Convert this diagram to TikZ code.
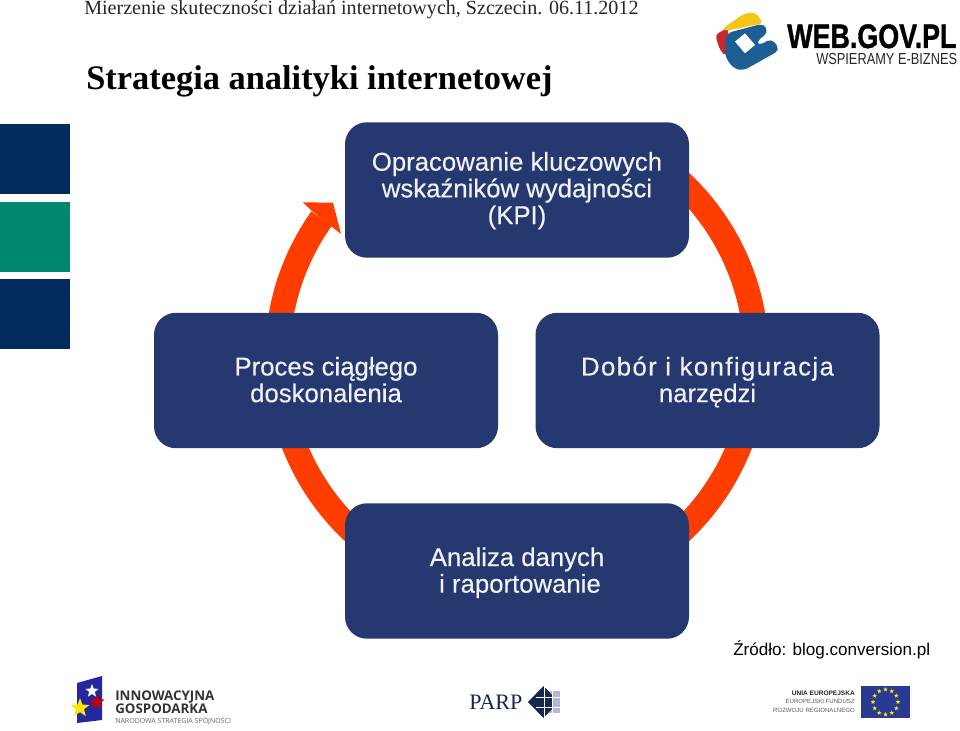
\documentclass[tikz,border=0pt]{standalone}
\usepackage{fontspec}
\setmainfont{Liberation Serif}
\setsansfont{Liberation Sans}
\newfontfamily\opensans{Open Sans}
\newfontfamily\boxfont[FakeBold=0.35]{Liberation Sans}
\newfontfamily\boxfontwide[FakeBold=0.35,LetterSpace=5.5]{Liberation Sans}
\newfontfamily\heavyfont[FakeBold=1.2]{Liberation Sans Bold}
\usetikzlibrary{shapes.geometric,calc}
\definecolor{boxblue}{HTML}{253870}
\definecolor{ringred}{HTML}{FF3D00}
\definecolor{navyside}{HTML}{002B5C}
\definecolor{tealside}{HTML}{00876F}
\definecolor{boxtext}{HTML}{F0F2F7}
\definecolor{flagblue}{HTML}{2A3A92}
\definecolor{logogrey}{HTML}{333333}
\definecolor{parpnavy}{HTML}{14284F}
\definecolor{parplilac}{HTML}{B4B7D4}
\definecolor{logoblue}{HTML}{1C5F95}
\definecolor{logored}{HTML}{C8282D}
\definecolor{logoyellow}{HTML}{F5C518}
\tikzset{
  stagebox/.style={fill=boxblue,rounded corners=16.5pt,minimum width=258pt,minimum height=101.6pt,inner sep=0pt,align=center,text=boxtext,font=\boxfont\fontsize{19.3}{20}\selectfont},
  sidesq/.style={minimum size=52.5pt,inner sep=0pt,anchor=north west},
  lbl/.style={inner sep=0pt,anchor=base west},
  lblr/.style={inner sep=0pt,anchor=base east},
  flagstar/.style={star,star points=5,star point ratio=2.4,inner sep=0pt},
  eustar/.style={flagstar,fill=yellow!90!orange,minimum size=3.6pt},
}
\begin{document}
\begin{tikzpicture}[x=0.75pt,y=-0.75pt]
\useasboundingbox (0,0) rectangle (960,731);
% header
\node[lbl,font=\fontsize{15.05}{17}\selectfont,text=black!85] (hdr) at (84,15) {Mierzenie skuteczności działań internetowych, Szczecin. 06.11.2012};
\node[lbl,font=\bfseries\fontsize{25.8}{30}\selectfont] (title) at (86,90) {Strategia analityki internetowej};
% side squares
\node[sidesq,fill=navyside] (s1) at (0,124) {};
\node[sidesq,fill=tealside] (s2) at (0,202) {};
\node[sidesq,fill=navyside] (s3) at (0,279) {};
% ring
\coordinate (ringc) at (517,357);
\draw[ringred,line width=18.75pt] (ringc) ++(-144.7:239.5) arc[start angle=-144.7,end angle=-420,radius=239.5];
\fill[ringred] (311.7,210.7) -- (302.7,202.3) -- (333,202.7) -- (341,234) -- (331.7,226.7) -- cycle;
% boxes
\node[stagebox] (kpi) at (517,190) {\rule{0pt}{15pt}Opracowanie kluczowych\\wskaźników wydajności\\(KPI)};
\node[stagebox] (tools) at (707.5,380.5) {\rule{0pt}{16.5pt}{\boxfontwide Dobór i konfiguracja}\\narzędzi};
\node[stagebox] (improve) at (326,380.5) {Proces ciągłego\\doskonalenia\rule[-1.5pt]{0pt}{0pt}};
\node[stagebox] (data) at (517,571) {\rule{0pt}{16.5pt}Analiza danych\\\hspace*{4.5pt}i raportowanie};
% source
\node[lbl,font=\sffamily\fontsize{12.8}{15}\selectfont] (src) at (733,655.5) {Źródło: blog.conversion.pl};
% web.gov logo
\begin{scope}[shift={(700,0)},scale=0.3333]
\fill[logored,rounded corners=3pt] (45,105) -- (85,82) -- (78,170) -- (60,150) -- cycle;
\fill[logoyellow,rounded corners=3pt] (65,88) -- (130,42) -- (165,36) -- (190,70) -- (80,92) -- cycle;
\fill[logoblue,rounded corners=4pt] (78,100) -- (192,70) -- (205,98) -- (168,125) -- (175,138) -- (215,115) -- (240,150) -- (130,212) -- (100,205) -- (75,170) -- cycle;
\fill[white] (105,125) -- (135,100) -- (165,135) -- (135,160) -- cycle;
\end{scope}
\node[lbl,font=\heavyfont\fontsize{25.5}{28}\selectfont] (wg) at (787,48) {\scalebox{0.79}[1]{WEB.GOV.PL}};
\node[lbl,font=\sffamily\fontsize{12}{14}\selectfont,text=black!85] (wgs) at (816,65) {\scalebox{0.80}[1]{WSPIERAMY E-BIZNES}};
% innovation logo
\fill[blue!55!black!85] (77,683) -- (102,676) -- (102,720) -- (77,723) -- cycle;
\node[flagstar,fill=white,minimum size=10.5pt] (st1) at (92,691) {};
\node[flagstar,fill=yellow!90!orange,minimum size=15pt] (st2) at (80,708) {};
\node[flagstar,fill=red!80!black,minimum size=12pt] (st3) at (97,702) {};
\node[lbl,font=\opensans\bfseries\fontsize{10}{12}\selectfont,text=logogrey] (in1) at (115,700) {INNOWACYJNA};
\node[lbl,font=\opensans\bfseries\fontsize{10}{12}\selectfont,text=logogrey] (in2) at (115,713) {GOSPODARKA};
\node[lbl,font=\opensans\fontsize{5.25}{7}\selectfont,text=black!60] (in3) at (115,723) {NARODOWA STRATEGIA SPÓJNOŚCI};
% parp logo
\node[lbl,font=\fontsize{16.5}{20}\selectfont,text=parpnavy] (parp) at (469,709) {PARP};
\fill[parplilac] (544,691) rectangle (560,713);
\fill[parpnavy] (528,702) -- (543.5,686) -- (552,695) -- (552,709) -- (543.5,718) -- cycle;
\draw[white,line width=0.7pt] (544,686) -- (544,718) (536,697) -- (560,697) (536,707) -- (560,707) (552,690) -- (552,714);
% EU logo
\node[lblr,font=\sffamily\bfseries\fontsize{4.9}{6}\selectfont,text=black!85] (eu1) at (855,695.5) {UNIA EUROPEJSKA};
\node[lblr,font=\sffamily\fontsize{4.55}{6}\selectfont,text=black!65] (eu2) at (855,703.5) {EUROPEJSKI FUNDUSZ};
\node[lblr,font=\sffamily\fontsize{4.55}{6}\selectfont,text=black!65] (eu3) at (855,712) {ROZWOJU REGIONALNEGO};
\fill[flagblue] (861,686) rectangle (910,718);
\coordinate (euc) at (885.5,702);
\foreach \a in {0,30,...,330} {\node[eustar] at ($(euc)+(\a:12.5)$) {};}
\end{tikzpicture}
\end{document}
